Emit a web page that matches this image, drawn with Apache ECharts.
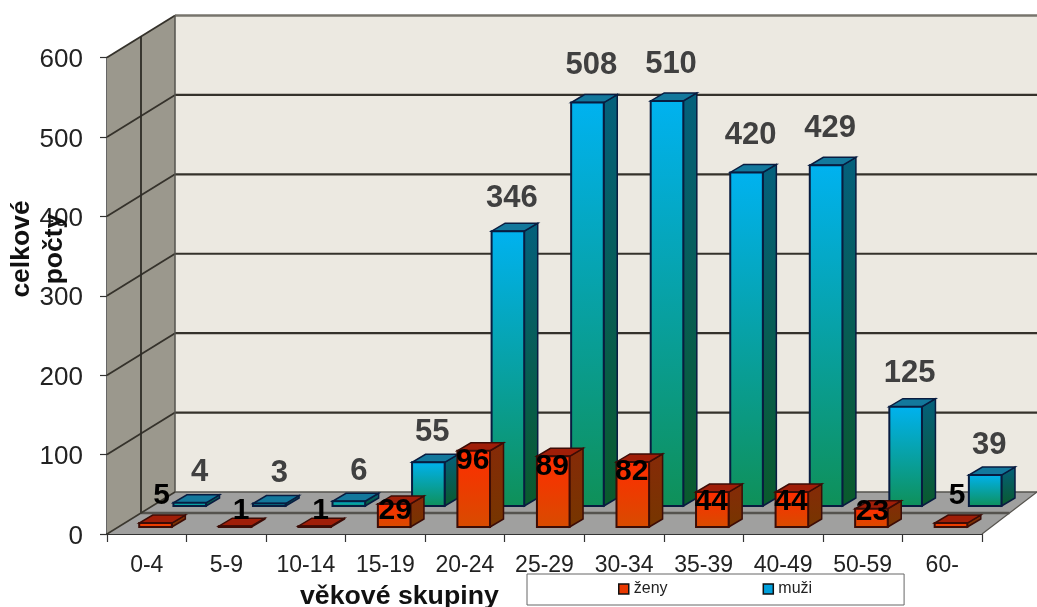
<!DOCTYPE html>
<html>
<head>
<meta charset="utf-8">
<style>html,body{margin:0;padding:0;background:#fff;overflow:hidden}#c{width:1037px;height:607px}</style>
<script src="https://cdn.jsdelivr.net/npm/echarts@6/dist/echarts.min.js"></script>
</head>
<body>
<div id="c"></div>
<script>
const categories = ['0-4','5-9','10-14','15-19','20-24','25-29','30-34','35-39','40-49','50-59','60-'];
const zeny = [5,1,1,29,96,89,82,44,44,23,5];
const muzi = [4,3,6,55,346,508,510,420,429,125,39];
const yTicks = [0,100,200,300,400,500,600];

const FONT = '"Liberation Sans", Arial, sans-serif';
const WALL_DX = 68, WALL_DY = -42, RIGHT_LIMIT = 1037, FLOOR_R_DX = 55;
const chart = echarts.init(document.getElementById('c'), null, {renderer:'canvas'});

function poly(points, fill, stroke, lw, z2){
  return {type:'polygon', z2:z2||0, shape:{points}, style:{fill, stroke:stroke||null, lineWidth:lw||0}};
}
function line(x1,y1,x2,y2,stroke,lw,z2){
  return {type:'line', z2:z2||0, shape:{x1,y1,x2,y2}, style:{stroke, lineWidth:lw||1.5}};
}
function grad(a,b){ return {type:'linear',x:0,y:0,x2:0,y2:1,colorStops:[{offset:0,color:a},{offset:1,color:b}]}; }

function renderWalls(params, api){
  const cs = params.coordSys;
  const L = cs.x, R = cs.x + cs.width, B = cs.y + cs.height, T = cs.y;
  const gridC = '#35322b', kids = [];
  kids.push(poly([[L+WALL_DX,T+WALL_DY],[RIGHT_LIMIT,T+WALL_DY],[RIGHT_LIMIT,B+WALL_DY],[L+WALL_DX,B+WALL_DY]],'#ece9e1'));
  kids.push(poly([[L,T],[L+WALL_DX,T+WALL_DY],[L+WALL_DX,B+WALL_DY],[L,B]],'#9b988d'));
  kids.push(poly([[L,B],[R,B],[R+FLOOR_R_DX,B+WALL_DY],[L+WALL_DX,B+WALL_DY]],'#a0a09f'));
  yTicks.forEach(v=>{
    const y = api.coord([0,v])[1];
    if(v>0){
      kids.push(line(L,y,L+WALL_DX,y+WALL_DY,gridC,1.8));
      kids.push(line(L+WALL_DX,y+WALL_DY,RIGHT_LIMIT,y+WALL_DY, v===600?'#77746c':gridC, v===600?2.5:2.2));
    }
  });
  kids.push(line(L+WALL_DX/2,T+WALL_DY/2,L+WALL_DX/2,B+WALL_DY/2,'#2e2c26',1.8));
  kids.push(line(L+WALL_DX/2,B+WALL_DY/2,R+FLOOR_R_DX/2,B+WALL_DY/2,'#55534e',2.5));
  kids.push(line(L+WALL_DX,T+WALL_DY,L+WALL_DX,B+WALL_DY,'#55534e',1.5));
  kids.push(line(L+WALL_DX,B+WALL_DY,RIGHT_LIMIT,B+WALL_DY,'#55534e',1.5));
  kids.push(line(L,B,L+WALL_DX,B+WALL_DY,'#3a372f',1.5));
  kids.push(line(R,B,R+FLOOR_R_DX,B+WALL_DY,'#55534e',1.2));
  return {type:'group', children:kids};
}

const STYLE = {
  zeny:{ centre:0.11, floorY:-7, frontA:'#ff2c00', frontB:'#d84c00', sideA:'#862a08', sideB:'#763600', top:'#a01e08', edge:'#3c0c06', labelColor:'#000', font:30 },
  muzi:{ centre:0.54, floorY:-28, frontA:'#00b2f0', frontB:'#0f9058', sideA:'#04607c', sideB:'#0a5a2c', top:'#13789c', edge:'#081c40', labelColor:'#404040', font:31 }
};
function renderBar(kind){
  return function(params, api){
    const s = STYLE[kind];
    const v = api.value(1);
    const base = api.coord([api.value(0),0]);
    const top = api.coord([api.value(0),v]);
    const cw = api.size([1,0])[0];
    const w = cw*0.41, dx = 13.5, dy = -8;
    const cx = base[0] + cw*s.centre;
    const x0 = cx - w/2, x1 = cx + w/2;
    const yb = base[1] + s.floorY;
    const yt = top[1] + s.floorY;
    const kids = [
      poly([[x1,yb],[x1+dx,yb+dy],[x1+dx,yt+dy],[x1,yt]], grad(s.sideA,s.sideB), s.edge, 1.5),
      poly([[x0,yt],[x1,yt],[x1+dx,yt+dy],[x0+dx,yt+dy]], s.top, s.edge, 1.5),
      poly([[x0,yb],[x1,yb],[x1,yt],[x0,yt]], grad(s.frontA,s.frontB), s.edge, 2)
    ];
    let lx, ly;
    if(kind==='muzi'){
      lx = cx + (v<10 ? 10 : 4);
      ly = yt - (v>400 ? 37 : (v>100 ? 33 : 30));
    } else if(v>=20){
      lx = cx + (v<30 ? 1 : -1); ly = yt + (v>=40 ? 10 : (v>=25 ? 7 : 3));
    } else {
      lx = cx + 6; ly = yt - (v>=5 ? 27 : 15);
    }
    kids.push({type:'text', z2:10, style:{text:String(v), x:lx, y:ly, align:'center', verticalAlign:'middle',
      fill:s.labelColor, font:'bold '+s.font+'px '+FONT}});
    return {type:'group', children:kids};
  };
}

chart.setOption({
  animation:false,
  backgroundColor:'#ffffff',
  grid:{left:107, right:55, top:57.5, bottom:73, containLabel:false},
  xAxis:{type:'category', data:categories, boundaryGap:true,
    axisLine:{show:true,lineStyle:{color:'#333',width:2}},
    axisTick:{show:true,length:8,alignWithLabel:false,lineStyle:{color:'#333',width:1.2}},
    axisLabel:{interval:0,color:'#222',fontSize:23,fontFamily:FONT,margin:20},
    splitLine:{show:false}},
  yAxis:{type:'value', min:0, max:600, interval:100,
    axisLine:{show:true,lineStyle:{color:'#333',width:1.5}},
    axisTick:{show:true,length:7,lineStyle:{color:'#333',width:1.2}},
    axisLabel:{margin:24,formatter:'{t|{value}}',
      rich:{t:{color:'#222',fontSize:26,fontFamily:FONT,padding:[5,0,0,0]}}},
    splitLine:{show:false}},
  legend:{show:true, selectedMode:false, left:527, top:574, orient:'horizontal', icon:'rect',
    itemWidth:10, itemHeight:10, itemGap:95, padding:[7,92,8,91],
    backgroundColor:'#fff', borderColor:'#666', borderWidth:1,
    textStyle:{fontSize:16,color:'#222',fontFamily:FONT},
    data:[
      {name:'ženy',itemStyle:{color:'#e83800',borderColor:'#111',borderWidth:1.5}},
      {name:'muži',itemStyle:{color:'#00a0dc',borderColor:'#111',borderWidth:1.5}}
    ]},
  graphic:[
    {type:'text',left:300,top:583,style:{text:'věkové skupiny',fill:'#111',font:'bold 26.7px '+FONT}},
    {type:'text',x:22,y:249,rotation:Math.PI/2,style:{text:'celkové',align:'center',verticalAlign:'middle',fill:'#111',font:'bold 26.5px '+FONT}},
    {type:'text',x:55,y:249,rotation:Math.PI/2,z:100,style:{text:'počty',align:'center',verticalAlign:'middle',fill:'#111',font:'bold 26.5px '+FONT}}
  ],
  series:[
    {type:'custom', silent:true, z:1, clip:false, data:[[0,0]], encode:{x:0,y:1}, renderItem:renderWalls},
    {type:'custom', name:'muži', silent:true, z:2, clip:false, itemStyle:{color:'#00a0dc'},
      data:muzi.map((v,i)=>[i,v]), encode:{x:0,y:1}, renderItem:renderBar('muzi')},
    {type:'custom', name:'ženy', silent:true, z:3, clip:false, itemStyle:{color:'#e83800'},
      data:zeny.map((v,i)=>[i,v]), encode:{x:0,y:1}, renderItem:renderBar('zeny')}
  ]
});
</script>
</body>
</html>
